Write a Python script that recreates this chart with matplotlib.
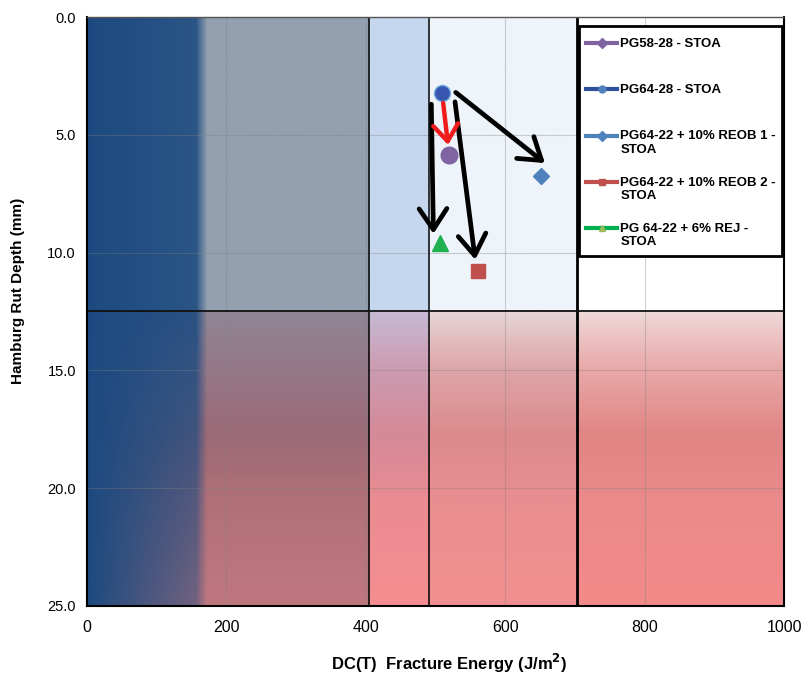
import numpy as np
import matplotlib
matplotlib.use("Agg")
import matplotlib.pyplot as plt
from matplotlib.colors import to_rgb
from matplotlib.lines import Line2D
from matplotlib.patches import Rectangle

# mixes: DC(T) fracture energy (J/m^2) vs Hamburg rut depth (mm)
mix_names = [
    "PG58-28 - STOA",
    "PG64-28 - STOA",
    "PG64-22 + 10% REOB 1 -\nSTOA",
    "PG64-22 + 10% REOB 2 -\nSTOA",
    "PG 64-22 + 6% REJ -\nSTOA",
]
fracture_energy = [519, 509, 651, 561, 506]
rut_depth = [5.86, 3.23, 6.75, 10.8, 9.6]

# arrows from the PG64-28 base binder to the modified mixes: (start, end)
black_arrows = [
    ((494, 3.7), (497, 9.2)),
    ((528, 3.6), (557, 10.3)),
    ((529, 3.2), (657, 6.2)),
]
red_arrow = ((511, 3.65), (518, 5.43))

x_ticks = [0, 200, 400, 600, 800, 1000]
y_ticks = [0, 5, 10, 15, 20, 25]

# performance zone boundaries
zone_x = [405, 490, 703]
zone_y = 12.5

line_colors = ["#8064a2", "#2f4f9f", "#4f81bd", "#c0504d", "#00b050"]
face_colors = ["#8064a2", "#3656b0", "#4f81bd", "#c0504d", "#1fb050"]
markers = ["o", "o", "D", "s", "^"]
marker_sizes = [12, 11.5, 8.5, 10, 11]
legend_markers = ["D", "o", "D", "s", "^"]
legend_mfc = ["#8064a2", "#4f81bd", "#4f81bd", "#c0504d", "#9bbb59"]


def build_background():
    xs = np.linspace(0, 1000, 1001)
    ys = np.linspace(0, 25, 501)
    img = np.zeros((len(ys), len(xs), 3))

    col_edges = [0] + zone_x + [1001]
    top_cols = ["#93a0af", "#c5d7ee", "#eef4fa", "#ffffff"]
    stop_y = [12.5, 14.9, 17.7, 20.5, 25.0]
    bottom_cols = [
        ["#8f8694", "#957888", "#9b6a77", "#b07078", "#c07880"],
        ["#c6bad4", "#cc9cb2", "#d48a98", "#ea8c92", "#f48e90"],
        ["#e6d6d8", "#dea6a8", "#dc8a8c", "#e98e90", "#f29090"],
        ["#efd8d8", "#e9a9a9", "#e08684", "#ea8a8a", "#f48a8a"],
    ]
    top = ys < zone_y
    for i in range(4):
        cx = (xs >= col_edges[i]) & (xs < col_edges[i + 1])
        img[np.ix_(top, cx)] = to_rgb(top_cols[i])
        stops = np.array([to_rgb(c) for c in bottom_cols[i]])
        yb = ys[~top]
        grad = np.stack([np.interp(yb, stop_y, stops[:, k]) for k in range(3)], axis=1)
        img[np.ix_(~top, cx)] = grad[:, None, :]

    # dark blue band on the low-energy side
    blue = np.array(to_rgb("#1c4a80"))
    X, Y = np.meshgrid(xs, ys)
    k = np.where(Y < zone_y, 0.12, 0.12 + 0.4 * (Y - zone_y) / 12.5)
    alpha = 1 - k * np.clip(X / 155, 0, 1)
    edge = np.clip((172 - X) / 16, 0, 1)
    alpha = np.where(X > 156, alpha * edge, alpha)
    img = img * (1 - alpha[..., None]) + blue * alpha[..., None]
    return img


def draw_legend(ax):
    # boxed legend with the symbol on each entry's first text line
    x0, x1 = 0.706, 0.997
    y_top, y_bot = 0.985, 0.594
    ax.add_patch(Rectangle((x0, y_bot), x1 - x0, y_top - y_bot, transform=ax.transAxes,
                           facecolor="white", edgecolor="black", lw=2.0, zorder=6,
                           clip_on=False))
    first_row = 0.956
    step = 0.0787
    for i, name in enumerate(mix_names):
        yy = first_row - i * step
        ax.add_line(Line2D([0.716, 0.761], [yy, yy], transform=ax.transAxes,
                           color=line_colors[i], lw=3, zorder=7))
        ax.add_line(Line2D([0.7385], [yy], transform=ax.transAxes, marker=legend_markers[i],
                           ms=5, mfc=legend_mfc[i], mec=legend_mfc[i], zorder=8))
        ax.text(0.765, yy + 0.009, name, transform=ax.transAxes, ha="left", va="top",
                fontsize=9.5, fontweight="bold", linespacing=1.15, zorder=8)


plt.rcParams["font.family"] = ["Liberation Sans", "DejaVu Sans"]

fig = plt.figure(figsize=(8.07, 6.73), dpi=100)
ax = fig.add_axes([0.1078, 0.0996, 0.8637, 0.8751])

ax.imshow(build_background(), extent=(0, 1000, 25, 0), aspect="auto",
          interpolation="bilinear", zorder=0)

for gx in [200, 400, 600, 800]:
    ax.axvline(gx, color="#808080", lw=0.8, alpha=0.35, zorder=1)
for gy in [5, 10, 15, 20]:
    ax.axhline(gy, color="#808080", lw=0.8, alpha=0.35, zorder=1)

ax.axvline(zone_x[0], color="black", lw=1.1, zorder=2)
ax.axvline(zone_x[1], color="black", lw=1.1, zorder=2)
ax.axvline(zone_x[2], color="black", lw=2.0, zorder=2)
ax.axhline(zone_y, color="#111111", lw=1.3, zorder=2)

for i in range(len(mix_names)):
    ax.plot(fracture_energy[i], rut_depth[i], linestyle="none",
            marker=markers[i], ms=marker_sizes[i], mfc=face_colors[i],
            mec="#6fa8dc" if i == 1 else face_colors[i], mew=1.0, zorder=4)

for start, end in black_arrows:
    ax.annotate("", xy=end, xytext=start, zorder=5,
                arrowprops=dict(arrowstyle="->,head_length=0.75,head_width=0.5",
                                lw=3.4, color="black", shrinkA=0, shrinkB=0,
                                mutation_scale=20))
ax.annotate("", xy=red_arrow[1], xytext=red_arrow[0], zorder=5,
            arrowprops=dict(arrowstyle="->,head_length=0.6,head_width=0.45",
                            lw=3.2, color="#ee1c1c", shrinkA=0, shrinkB=0,
                            mutation_scale=20))

ax.set_xlim(0, 1000)
ax.set_ylim(25, 0)
ax.set_xticks(x_ticks)
ax.set_yticks(y_ticks)
ax.set_yticklabels([f"{v:.1f}" for v in y_ticks], fontsize=10.5)
ax.set_xticklabels([str(v) for v in x_ticks], fontsize=11.5)
ax.tick_params(length=0, pad=8)
ax.tick_params(axis="x", pad=10)

for side in ["left", "bottom", "right"]:
    ax.spines[side].set_color("black")
    ax.spines[side].set_linewidth(1.5)
ax.spines["top"].set_color("#555555")
ax.spines["top"].set_linewidth(1.0)

ax.set_xlabel("DC(T)  Fracture Energy (J/m$^{\\mathbf{2}}$)", fontsize=12,
              fontweight="bold", labelpad=12)
ax.set_ylabel("Hamburg Rut Depth (mm)", fontsize=11, fontweight="bold",
              labelpad=16)
ax.xaxis.label.set_x(0.52)
ax.yaxis.label.set_y(0.535)

draw_legend(ax)

fig.savefig("out.png", dpi=100)
